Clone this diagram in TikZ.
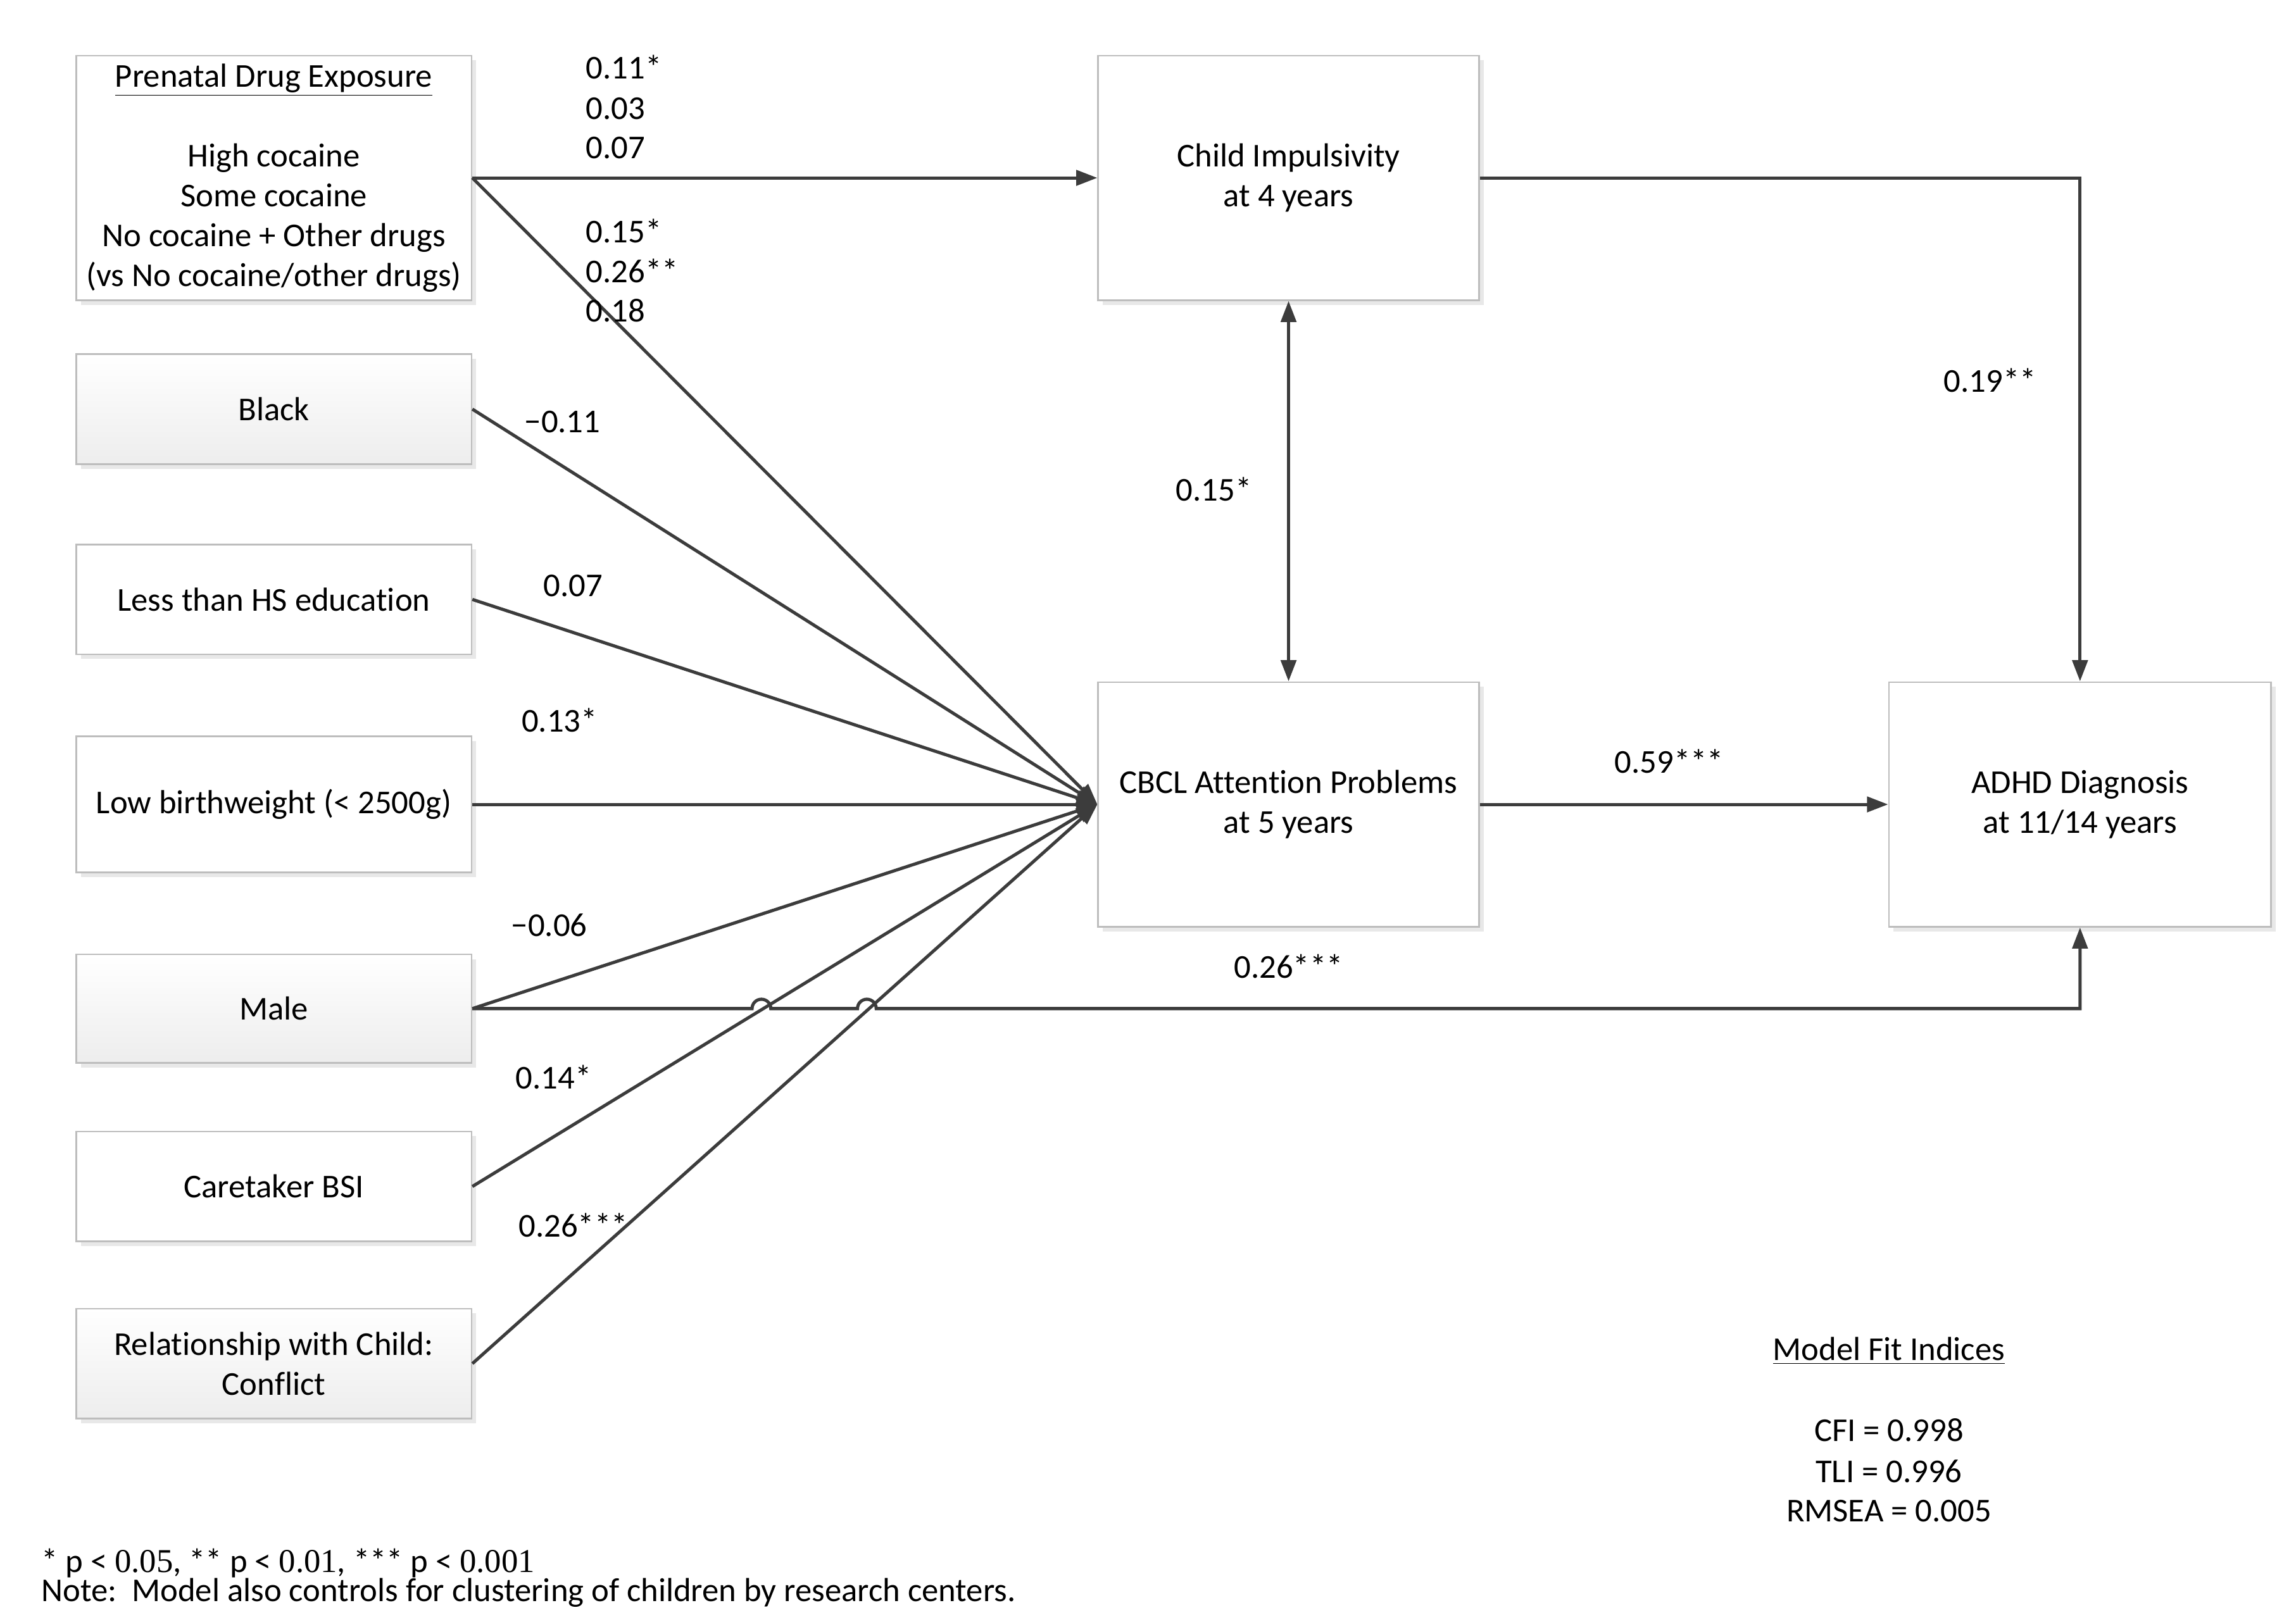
\documentclass[tikz,border=0pt]{standalone}
\usepackage{fontspec}
\setmainfont{Carlito}[Ligatures=NoCommon]
\newfontfamily\numserif{Liberation Serif}
\usetikzlibrary{arrows.meta,shadows}
\definecolor{lineC}{HTML}{3C3C3C}
\definecolor{boxC}{HTML}{BDBDBD}
\tikzset{
  every node/.style={font=\fontsize{16.2}{19.4}\selectfont, text=black},
  box/.style={draw=boxC, line width=0.8pt, fill=white, align=center, inner sep=0pt,
    drop shadow={opacity=1, fill=black!9, shadow xshift=0.08cm, shadow yshift=-0.08cm}},
  gbox/.style={box, top color=white, bottom color=black!7},
  conn/.style={draw=lineC, line width=1.55pt, -{Triangle[length=0.36cm,width=0.26cm]}},
  biconn/.style={draw=lineC, line width=1.55pt, {Triangle[length=0.36cm,width=0.26cm]}-{Triangle[length=0.36cm,width=0.26cm]}},
  lab/.style={inner sep=0pt, anchor=west},
  clab/.style={inner sep=0pt, anchor=center}
}
\begin{document}
\begin{tikzpicture}[x=0.025cm, y=-0.025cm]
\useasboundingbox (0,0) rectangle (1568,1108);

% left boxes
\node[box, minimum width=6.75cm, minimum height=4.175cm] (pde) at (187,121.5)
  {\underline{Prenatal Drug Exposure}\\[19.4pt] High cocaine\\ Some cocaine\\ No cocaine + Other drugs\\ (vs No cocaine/other drugs)};
\node[gbox, minimum width=6.75cm, minimum height=1.875cm] (black) at (187,279.5) {Black};
\node[box, minimum width=6.75cm, minimum height=1.875cm] (hs) at (187,409.5) {Less than HS education};
\node[box, minimum width=6.75cm, minimum height=2.325cm] (lbw) at (187,549.5) {Low birthweight (< 2500g)};
\node[gbox, minimum width=6.75cm, minimum height=1.85cm] (male) at (187,689) {Male};
\node[box, minimum width=6.75cm, minimum height=1.875cm] (bsi) at (187,810.5) {Caretaker BSI};
\node[gbox, minimum width=6.75cm, minimum height=1.875cm] (rel) at (187,931.5) {Relationship with Child:\\ Conflict};

% right boxes
\node[box, minimum width=6.5cm, minimum height=4.175cm] (imp) at (880,121.5) {Child Impulsivity\\ at 4 years};
\node[box, minimum width=6.5cm, minimum height=4.175cm] (cbcl) at (880,549.5) {CBCL Attention Problems\\ at 5 years};
\node[box, minimum width=6.525cm, minimum height=4.175cm] (adhd) at (1420.5,549.5) {ADHD Diagnosis\\ at 11/14 years};

% connectors
\draw[conn] (pde.east) -- (imp.west);
\draw[conn] (pde.east) -- (cbcl.west);
\draw[conn] (black.east) -- (cbcl.west);
\draw[conn] (hs.east) -- (cbcl.west);
\draw[conn] (lbw.east) -- (cbcl.west);
\draw[conn] (male.east) -- (cbcl.west);
\draw[conn] (bsi.east) -- (cbcl.west);
\draw[conn] (rel.east) -- (cbcl.west);
\draw[conn] (imp.east) -| (adhd.north);
\draw[biconn] (imp.south) -- (cbcl.north);
\draw[conn] (cbcl.east) -- (adhd.west);
\coordinate (j1) at (520,689);
\coordinate (j2) at (592,689);
\draw[conn] (male.east) -- ([xshift=-0.16cm]j1) arc[start angle=180, end angle=0, radius=0.16cm]
  -- ([xshift=-0.16cm]j2) arc[start angle=180, end angle=0, radius=0.16cm]
  -| (adhd.south);

% path labels
\node[lab] (l1) at (400,46) {0.11*};
\node[lab] (l2) at (400,74) {0.03};
\node[lab] (l3) at (400,101) {0.07};
\node[lab] (l4) at (400,158) {0.15*};
\node[lab] (l5) at (400,185) {0.26**};
\node[lab] (l6) at (400,212) {0.18};
\node[lab] (l7) at (358,288) {−0.11};
\node[lab] (l8) at (371,400) {0.07};
\node[lab] (l9) at (356,492) {0.13*};
\node[lab] (l10) at (349,632) {−0.06};
\node[lab] (l11) at (352,736) {0.14*};
\node[lab] (l12) at (354,837) {0.26***};
\node[clab] (l13) at (880,660) {0.26***};
\node[clab] (l14) at (1140,520) {0.59***};
\node[clab] (l15) at (829,334) {0.15*};
\node[clab] (l16) at (1359,260) {0.19**};

% model fit
\node[clab] (mfi) at (1290,923) {\underline{Model Fit Indices}};
\node[clab] (cfi) at (1290,977) {CFI = 0.998};
\node[clab] (tli) at (1290,1005) {TLI = 0.996};
\node[clab] (rmsea) at (1290,1032) {RMSEA = 0.005};

% footnote
\node[inner sep=0pt, anchor=west] (fn1) at (28,1068) {* p < {\numserif 0.05}, ** p < {\numserif 0.01}, *** p < {\numserif 0.001}};
\node[inner sep=0pt, anchor=west] (fn2) at (28,1088) {Note:\ \ Model also controls for clustering of children by research centers.};
\end{tikzpicture}
\end{document}
